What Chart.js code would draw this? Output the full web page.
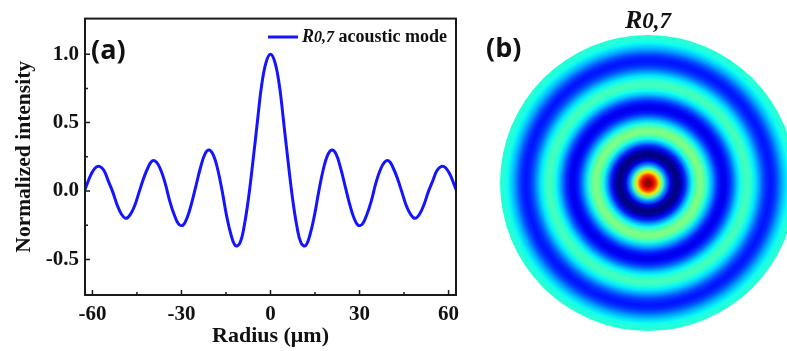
<!DOCTYPE html>
<html>
<head>
<meta charset="utf-8">
<script src="https://cdn.jsdelivr.net/npm/chart.js@4.4.1/dist/chart.umd.min.js"></script>
<style>
  html, body { margin: 0; padding: 0; background: #fff; overflow: hidden; width: 787px; height: 351px; }
  #profile { position: absolute; left: 0; top: 0; }
  #disc { position: absolute; left: 470px; top: 0; }
</style>
</head>
<body>
<canvas id="profile" width="470" height="351"></canvas>
<canvas id="disc" width="356" height="351"></canvas>
<script>
// radial profile of the R0,7 mode
const radius = [
  -62.5, -62.0, -60.5, -59.0, -57.6, -56.1, -54.6, -53.1, -51.7, -50.2, -48.7,
  -47.2, -45.8, -44.3, -42.8, -41.3, -39.9, -38.4, -36.9, -35.4, -34.0, -32.5,
  -31.0, -29.5, -28.0, -26.6, -25.1, -23.6, -22.1, -20.7, -19.2, -17.7, -16.2,
  -14.8, -13.3, -11.8, -10.3, -8.9, -7.4, -5.9, -4.4, -3.0, -1.5,
  0,
  1.5, 3.0, 4.4, 5.9, 7.4, 8.9, 10.3, 11.8, 13.3, 14.8, 16.2,
  17.7, 19.2, 20.7, 22.1, 23.6, 25.1, 26.6, 28.0, 29.5, 31.0, 32.5,
  34.0, 35.4, 36.9, 38.4, 39.9, 41.3, 42.8, 44.3, 45.8, 47.2, 48.7,
  50.2, 51.7, 53.1, 54.6, 56.1, 57.6, 59.0, 60.5, 62.0, 62.5
];
const intensity = [
  0.01, 0.04, 0.12, 0.17, 0.18, 0.15, 0.07, -0.01, -0.10, -0.17, -0.20,
  -0.17, -0.11, -0.01, 0.09, 0.17, 0.22, 0.21, 0.15, 0.05, -0.07, -0.17,
  -0.24, -0.25, -0.19, -0.09, 0.04, 0.17, 0.27, 0.30, 0.26, 0.15, -0.01,
  -0.18, -0.32, -0.40, -0.38, -0.26, -0.05, 0.22, 0.51, 0.77, 0.94,
  1.00,
  0.94, 0.77, 0.51, 0.22, -0.05, -0.26, -0.38, -0.40, -0.32, -0.18, -0.01,
  0.15, 0.26, 0.30, 0.27, 0.17, 0.04, -0.09, -0.19, -0.25, -0.24, -0.17,
  -0.07, 0.05, 0.15, 0.21, 0.22, 0.17, 0.09, -0.01, -0.11, -0.17, -0.20,
  -0.17, -0.10, -0.01, 0.07, 0.15, 0.18, 0.17, 0.12, 0.04, 0.01
];
const xMajorTicks = [-60, -30, 0, 30, 60];
const xMinorTicks = [-45, -15, 15, 45];
const yMajorTicks = [-0.5, 0, 0.5, 1.0];
const yMinorTicks = [-0.25, 0.25, 0.75];
const modeSymbol = 'R';
const modeIndex = '0,7';
const legendText = 'acoustic mode';
const discRadiusUm = 59; // radius shown at the rim of panel (b)

const serif = 'Liberation Serif';
const lo = Math.min(...intensity);
const hi = Math.max(...intensity);

function jet(v) {
  const t = (v - lo) / (hi - lo);
  const ch = c => Math.round(255 * Math.max(0, Math.min(1, 1.5 - Math.abs(4 * t - c))));
  return 'rgb(' + ch(3) + ',' + ch(2) + ',' + ch(1) + ')';
}

// draws the mode name as R + smaller 0,7, returns the end x
function drawModeName(ctx, x, y, size) {
  ctx.font = 'italic bold ' + size + 'px "' + serif + '"';
  ctx.fillText(modeSymbol, x, y);
  x += ctx.measureText(modeSymbol).width;
  ctx.font = 'italic bold ' + Math.round(size * 0.9) + 'px "' + serif + '"';
  ctx.fillText(modeIndex, x, y);
  return x + ctx.measureText(modeIndex).width;
}

function modeNameWidth(ctx, size) {
  ctx.font = 'italic bold ' + size + 'px "' + serif + '"';
  const w = ctx.measureText(modeSymbol).width;
  ctx.font = 'italic bold ' + Math.round(size * 0.9) + 'px "' + serif + '"';
  return w + ctx.measureText(modeIndex).width;
}

const frame = {
  id: 'frame',
  afterDatasetsDraw(chart) {
    const { ctx, chartArea: a, scales: { x, y } } = chart;
    ctx.save();

    // box
    ctx.strokeStyle = '#1a1a1a';
    ctx.lineWidth = 2;
    ctx.strokeRect(a.left, a.top, a.right - a.left, a.bottom - a.top);

    // inward ticks
    ctx.lineWidth = 1.5;
    ctx.beginPath();
    x.ticks.forEach(t => {
      const px = x.getPixelForValue(t.value);
      ctx.moveTo(px, a.bottom); ctx.lineTo(px, a.bottom - 5);
    });
    xMinorTicks.forEach(v => {
      const px = x.getPixelForValue(v);
      ctx.moveTo(px, a.bottom); ctx.lineTo(px, a.bottom - 3);
    });
    y.ticks.forEach(t => {
      const py = y.getPixelForValue(t.value);
      ctx.moveTo(a.left, py); ctx.lineTo(a.left + 5, py);
    });
    yMinorTicks.forEach(v => {
      const py = y.getPixelForValue(v);
      ctx.moveTo(a.left, py); ctx.lineTo(a.left + 3, py);
    });
    ctx.stroke();

    // legend
    ctx.strokeStyle = '#1414ff';
    ctx.lineWidth = 3;
    ctx.beginPath();
    ctx.moveTo(268, 37); ctx.lineTo(298, 37);
    ctx.stroke();
    ctx.fillStyle = '#111';
    ctx.textBaseline = 'alphabetic';
    ctx.textAlign = 'left';
    const tx = drawModeName(ctx, 302, 42, 18);
    ctx.font = 'bold 18px "' + serif + '"';
    ctx.fillText(' ' + legendText, tx, 42);

    // panel letter
    ctx.font = 'bold 27px "Open Sans"';
    ctx.textBaseline = 'middle';
    ctx.fillText('(a)', 91, 51);
    ctx.restore();
  }
};

new Chart(document.getElementById('profile'), {
  type: 'line',
  data: {
    datasets: [{
      label: modeSymbol + modeIndex + ' ' + legendText,
      data: radius.map((r, i) => ({ x: r, y: intensity[i] })),
      borderColor: '#1414ff',
      borderWidth: 3,
      pointRadius: 0,
      fill: false,
      tension: 0.4
    }]
  },
  options: {
    responsive: false,
    animation: false,
    layout: { padding: { top: 17, right: 14, left: 0, bottom: 0 } },
    plugins: { legend: { display: false }, tooltip: { enabled: false } },
    scales: {
      x: {
        type: 'linear',
        min: -62.5,
        max: 62.5,
        bounds: 'data',
        grid: { display: false, drawTicks: false },
        border: { display: false },
        afterBuildTicks(scale) { scale.ticks = xMajorTicks.map(v => ({ value: v })); },
        ticks: {
          padding: 7,
          maxRotation: 0,
          autoSkip: false,
          color: '#111',
          font: { family: serif, size: 21, weight: 'bold' }
        },
        title: {
          display: true,
          text: 'Radius (μm)',
          color: '#111',
          padding: { top: 0, bottom: 1 },
          font: { family: serif, size: 22, weight: 'bold' }
        },
        afterFit(scale) { scale.height = 56; }
      },
      y: {
        type: 'linear',
        min: -0.76,
        max: 1.26,
        bounds: 'data',
        grid: { display: false, drawTicks: false },
        border: { display: false },
        afterBuildTicks(scale) { scale.ticks = yMajorTicks.map(v => ({ value: v })); },
        ticks: {
          padding: 6,
          autoSkip: false,
          color: '#111',
          font: { family: serif, size: 21, weight: 'bold' },
          callback: v => v.toFixed(1)
        },
        title: {
          display: true,
          text: 'Normalized intensity',
          color: '#111',
          padding: { top: 12, bottom: 0 },
          font: { family: serif, size: 21.5, weight: 'bold' }
        },
        afterFit(scale) { scale.width = 85; }
      }
    }
  },
  plugins: [frame]
});

// panel (b): the same profile swept round as a filled disc
function discFill(context) {
  const chart = context.chart;
  const a = chart.chartArea;
  if (!a) return jet(0);
  const cx = (a.left + a.right) / 2;
  const cy = (a.top + a.bottom) / 2;
  const r = Math.min(a.right - a.left, a.bottom - a.top) / 2;
  const g = chart.ctx.createRadialGradient(cx, cy, 0, cx, cy, r);
  radius.forEach((rv, i) => {
    if (rv >= 0 && rv <= discRadiusUm) g.addColorStop(rv / discRadiusUm, jet(intensity[i]));
  });
  return g;
}

const discLabels = {
  id: 'discLabels',
  afterDraw(chart) {
    const ctx = chart.ctx;
    ctx.save();
    ctx.fillStyle = '#111';
    ctx.textAlign = 'left';
    ctx.textBaseline = 'alphabetic';
    const w = modeNameWidth(ctx, 26);
    drawModeName(ctx, 178 - w / 2, 28, 26);

    ctx.font = 'bold 27px "Open Sans"';
    ctx.textBaseline = 'middle';
    ctx.fillText('(b)', 16, 49);
    ctx.restore();
  }
};

new Chart(document.getElementById('disc'), {
  type: 'pie',
  data: {
    labels: [modeSymbol + modeIndex],
    datasets: [{ data: [1], borderWidth: 0, backgroundColor: discFill }]
  },
  options: {
    responsive: false,
    animation: false,
    layout: { padding: { left: 30, right: 30, top: 35, bottom: 20 } },
    plugins: { legend: { display: false }, tooltip: { enabled: false } }
  },
  plugins: [discLabels]
});
</script>
</body>
</html>
